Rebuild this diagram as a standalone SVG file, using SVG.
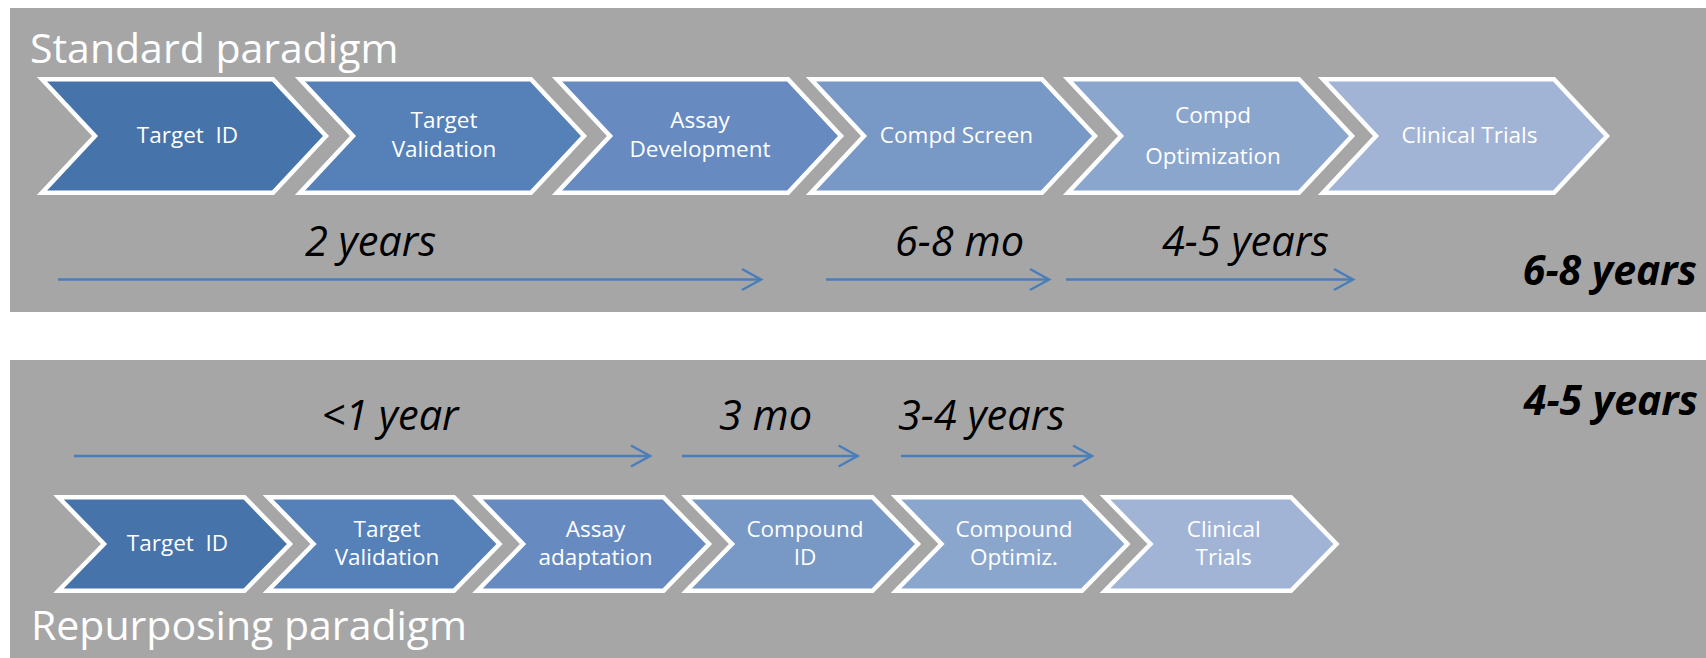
<svg xmlns="http://www.w3.org/2000/svg" width="1706" height="658" viewBox="0 0 1706 658">
  <style>
    .panel { fill: #a6a6a6; }
    .chev { stroke: #ffffff; stroke-width: 4.5; stroke-linejoin: miter; stroke-miterlimit: 10; }
    .c1 { fill: #4673a9; }
    .c2 { fill: #5580b8; }
    .c3 { fill: #678bc0; }
    .c4 { fill: #7898c6; }
    .c5 { fill: #8ba6cd; }
    .c6 { fill: #a1b4d6; }
    .lbl { font-family: "Open Sans", "Noto Sans", "DejaVu Sans", sans-serif; font-size: 22.5px; fill: #ffffff; text-anchor: middle; }
    .title { font-family: "Open Sans", "Noto Sans", "DejaVu Sans", sans-serif; font-size: 41px; fill: #ffffff; }
    .dur { font-family: "Open Sans", "Noto Sans", "DejaVu Sans", sans-serif; font-size: 41.5px; font-style: italic; fill: #000000; text-anchor: middle; }
    .total { font-family: "Open Sans", "Noto Sans", "DejaVu Sans", sans-serif; font-size: 41px; font-style: italic; font-weight: bold; fill: #000000; text-anchor: end; }
    .arrow { stroke: #4a7ebb; stroke-width: 2.5; fill: none; marker-end: url(#open); }
  </style>
  <defs>
    <marker id="open" markerUnits="userSpaceOnUse" markerWidth="26" markerHeight="26" refX="21" refY="12" orient="auto" overflow="visible">
      <path d="M2,1.5 L21,12 L2,22.5" fill="none" stroke="#4a7ebb" stroke-width="2.5"/>
    </marker>
  </defs>

  <!-- background panels -->
  <rect class="panel" x="10" y="8" width="1696" height="304"/>
  <rect class="panel" x="10" y="360" width="1696" height="298"/>

  <text class="title" x="30" y="63">Standard paradigm</text>
  <text class="title" x="31" y="640">Repurposing paradigm</text>

  <!-- standard pipeline -->
  <g id="std-target-id">
    <path class="chev c1" d="M42,79.2 H273 L326,136 L273,192.8 H42 L95,136 Z"/>
    <text class="lbl" x="187.5" y="143" xml:space="preserve">Target  ID</text>
  </g>
  <g id="std-target-validation">
    <path class="chev c2" d="M300,79.2 H531 L584,136 L531,192.8 H300 L353,136 Z"/>
    <text class="lbl" x="444" y="128.3">Target</text>
    <text class="lbl" x="444" y="156.7">Validation</text>
  </g>
  <g id="std-assay-development">
    <path class="chev c3" d="M557,79.2 H788 L841,136 L788,192.8 H557 L610,136 Z"/>
    <text class="lbl" x="700" y="128.3">Assay</text>
    <text class="lbl" x="700" y="156.7">Development</text>
  </g>
  <g id="std-compd-screen">
    <path class="chev c4" d="M811,79.2 H1042 L1095,136 L1042,192.8 H811 L864,136 Z"/>
    <text class="lbl" x="956.5" y="143">Compd Screen</text>
  </g>
  <g id="std-compd-optimization">
    <path class="chev c5" d="M1068,79.2 H1299 L1352,136 L1299,192.8 H1068 L1121,136 Z"/>
    <text class="lbl" x="1213" y="123">Compd</text>
    <text class="lbl" x="1213" y="164">Optimization</text>
  </g>
  <g id="std-clinical-trials">
    <path class="chev c6" d="M1323,79.2 H1554 L1607,136 L1554,192.8 H1323 L1376,136 Z"/>
    <text class="lbl" x="1469.5" y="143">Clinical Trials</text>
  </g>

  <!-- repurposing pipeline -->
  <g id="rep-target-id">
    <path class="chev c1" d="M58.5,497.2 H244.5 L290,544 L244.5,590.8 H58.5 L104,544 Z"/>
    <text class="lbl" x="177.5" y="551" xml:space="preserve">Target  ID</text>
  </g>
  <g id="rep-target-validation">
    <path class="chev c2" d="M268,497.2 H454 L499.5,544 L454,590.8 H268 L313.5,544 Z"/>
    <text class="lbl" x="387" y="537">Target</text>
    <text class="lbl" x="387" y="565">Validation</text>
  </g>
  <g id="rep-assay-adaptation">
    <path class="chev c3" d="M477.5,497.2 H663.5 L709,544 L663.5,590.8 H477.5 L523,544 Z"/>
    <text class="lbl" x="595.5" y="537">Assay</text>
    <text class="lbl" x="595.5" y="565">adaptation</text>
  </g>
  <g id="rep-compound-id">
    <path class="chev c4" d="M686.5,497.2 H872.5 L918,544 L872.5,590.8 H686.5 L732,544 Z"/>
    <text class="lbl" x="805" y="537">Compound</text>
    <text class="lbl" x="805" y="565">ID</text>
  </g>
  <g id="rep-compound-optimiz">
    <path class="chev c5" d="M896,497.2 H1082 L1127.5,544 L1082,590.8 H896 L941.5,544 Z"/>
    <text class="lbl" x="1014" y="537">Compound</text>
    <text class="lbl" x="1014" y="565">Optimiz.</text>
  </g>
  <g id="rep-clinical-trials">
    <path class="chev c6" d="M1105,497.2 H1291 L1336.5,544 L1291,590.8 H1105 L1150.5,544 Z"/>
    <text class="lbl" x="1223.7" y="537">Clinical</text>
    <text class="lbl" x="1223.7" y="565">Trials</text>
  </g>

  <!-- duration arrows -->
  <g id="connectors">
    <line class="arrow" x1="58" y1="279.5" x2="761" y2="279.5"/>
    <line class="arrow" x1="826" y1="279.5" x2="1049" y2="279.5"/>
    <line class="arrow" x1="1066" y1="279.5" x2="1353" y2="279.5"/>
    <line class="arrow" x1="74" y1="456" x2="650" y2="456"/>
    <line class="arrow" x1="682" y1="456" x2="857.6" y2="456"/>
    <line class="arrow" x1="901" y1="456" x2="1092" y2="456"/>
  </g>

  <!-- duration labels -->
  <text class="dur" x="370.5" y="256">2 years</text>
  <text class="dur" x="959.5" y="256">6-8 mo</text>
  <text class="dur" x="1245.5" y="256">4-5 years</text>
  <text class="dur" x="390" y="430">&lt;1 year</text>
  <text class="dur" x="765.5" y="430">3 mo</text>
  <text class="dur" x="981.5" y="430">3-4 years</text>

  <text class="total" x="1697" y="285">6-8 years</text>
  <text class="total" x="1698" y="415">4-5 years</text>
</svg>
